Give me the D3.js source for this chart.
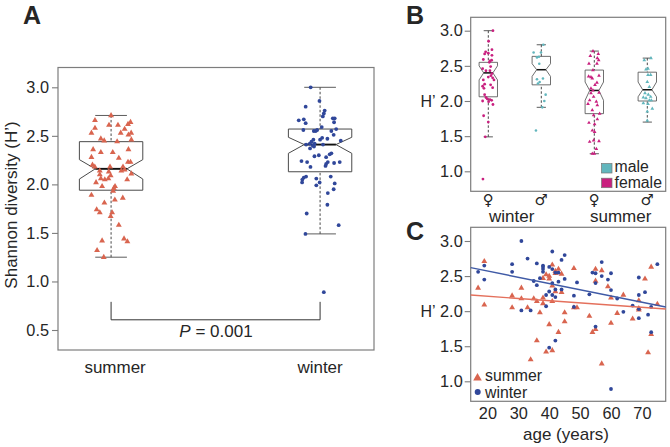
<!DOCTYPE html>
<html><head><meta charset="utf-8">
<script src="https://cdn.jsdelivr.net/npm/d3@7/dist/d3.min.js"></script>
<style>html,body{margin:0;padding:0;background:#fff}svg{display:block}text{font-family:"Liberation Sans",Arial,sans-serif;fill:#262626}</style>
</head><body><svg id="c" width="670" height="447"></svg>
<script>
// Panel A
const seasonsA = ["summer","winter"];
const ticksA = [0.5,1,1.5,2,2.5,3];
const summerValues = [2.71,2.66,2.64,2.62,2.61,2.61,2.58,2.57,2.53,2.53,2.53,2.51,2.47,2.45,2.46,2.44,2.36,2.36,2.33,2.33,2.28,2.27,2.23,2.23,2.2,2.18,2.18,2.18,2.14,2.14,2.15,2.13,2.11,2.1,2.09,2.06,2.06,2.05,2.05,2.02,1.98,1.98,1.96,1.93,1.89,1.86,1.84,1.81,1.74,1.71,1.71,1.67,1.58,1.44,1.41,1.42,1.32,1.25];
const summerJitter = [0,-.077,.093,.081,-.01,.033,-.077,.065,-.094,.096,.046,.083,-.049,-.033,.097,.029,-.086,.083,-.049,.008,-.094,.037,.081,.093,-.089,-.078,.057,-.005,-.054,.049,.065,-.011,.097,-.054,-.002,-.049,-.013,-.03,.077,-.072,-.043,.019,.013,.01,-.094,.056,.018,-.032,-.069,-.054,.005,-.002,.037,.062,.078,-.043,-.067,-.035];
const winterValues = [3,2.86,2.8,2.76,2.73,2.7,2.66,2.67,2.68,2.68,2.63,2.64,2.59,2.56,2.57,2.55,2.55,2.56,2.55,2.51,2.48,2.46,2.47,2.45,2.46,2.44,2.42,2.42,2.41,2.4,2.41,2.39,2.37,2.3,2.29,2.32,2.31,2.28,2.24,2.23,2.18,2.23,2.21,2.19,2.22,2.23,2.08,2.08,2.07,2.05,2.02,2.06,2.02,1.99,2.01,1.95,1.91,1.79,1.7,1.58,1.49,.89];
const winterJitter = [-.045,-.003,-.069,.022,.018,.013,-.102,-.078,.061,.07,-.069,.067,.008,-.08,.077,-.03,-.021,-.014,.054,.065,.01,0,.035,.099,-.032,-.041,-.049,-.026,-.067,-.035,.014,-.029,-.048,-.006,-.027,.054,.046,.029,-.089,-.062,-.046,.037,.029,.026,.067,.094,.051,-.067,-.078,-.085,-.086,-.018,-.002,-.018,.07,.065,.037,.035,-.064,.089,-.07,.018];
// box stats: whiskerLow, q1, notchLow, median, notchHigh, q3, whiskerHigh
const boxSummer = [1.25,1.94,2.055,2.16,2.255,2.44,2.71];
const boxWinter = [1.49,2.13,2.32,2.41,2.485,2.57,3.0];
const pLabel = "0.001";

// Panel B
const ticksB = [1,1.5,2,2.5,3];
const wfValues = [3,2.85,2.73,2.7,2.67,2.68,2.65,2.59,2.57,2.58,2.55,2.49,2.46,2.43,2.43,2.39,2.36,2.34,2.33,2.3,2.3,2.24,2.21,2.23,2.19,2.18,2.09,2.05,2.03,2.02,2.01,2,1.99,1.95,1.79,1.7,1.49,.89];
const wfJitter = [.088,.006,.069,-.05,-.069,0,.069,-.094,.031,.063,.019,.044,-.107,-.044,.031,.069,.05,0,.082,-.094,.107,-.069,-.107,.044,.082,-.082,-.069,-.044,-.019,.031,.063,-.107,.006,.088,-.088,0,-.057,-.101];
const wmValues = [2.8,2.69,2.69,2.63,2.62,2.53,2.31,2.27,2.32,2.25,2.09,2,1.91,1.58];
const wmJitter = [.038,-.145,-.006,-.044,-.082,-.038,-.082,-.031,.031,-.063,.082,.057,.019,-.101];
const sfValues = [2.71,2.67,2.64,2.61,2.58,2.53,2.53,2.44,2.35,2.34,2.32,2.36,2.26,2.23,2.18,2.15,2.11,2.12,2.06,2.01,1.99,1.96,1.94,1.87,1.82,1.8,1.74,1.69,1.67,1.58,1.56,1.42,1.44,1.43,1.32,1.25,1.25];
const sfJitter = [-.025,.075,-.075,.057,.082,-.101,.05,-.025,-.107,-.063,-.038,.088,.05,.013,-.063,-.025,-.063,.088,-.013,-.088,.038,-.119,.057,-.038,.101,-.013,.057,-.101,.006,-.038,.006,-.088,-.013,.088,.038,-.038,0];
const smValues = [2.61,2.58,2.46,2.45,2.37,2.37,2.27,2.2,2.11,2.09,2.05,2.06,2.04,2.01,2.01,1.97,1.96,1.89,1.85,1.72];
const smJitter = [.069,-.057,.013,-.025,.013,.063,0,.038,-.044,.019,-.075,.063,-.025,.038,.075,-.075,.013,.094,0,0];
const boxWF = [1.49,2.06,2.30,2.40,2.50,2.55,3.0];
const boxWM = [1.91,2.23,2.35,2.445,2.53,2.635,2.80];
const boxSF = [1.25,1.82,2.01,2.15,2.27,2.44,2.71];
const boxSM = [1.70,2.0,2.06,2.16,2.27,2.41,2.61];
const sexSymbols = ["♀","♂","♀","♂"];
const seasonsB = ["winter","summer"];
const legendB = ["male","female"];

// Panel C
const ticksCx = [20,30,40,50,60,70];
const ticksCy = [1,1.5,2,2.5,3];
const winterAge = [17,19,19,28,28,31,31,33,34,35,36,36,37,38,38,38,38,39,39,40,40,40,41,41,41,41,42,42,42,42,43,43,44,44,45,45,48,48,49,53,54,55,55,55,57,57,59,60,60,60,62,64,67,69,69,69,69,71,72,73,73,75];
const winterH = [2.56,2.65,2.45,2.67,2.56,3,2.01,2.75,2.01,2.43,2.68,2.37,2.47,2.65,2.63,2.6,2.56,2.23,2.07,2.63,2.28,1.48,2.85,2.6,2.4,2.23,2.55,2.31,2.2,1.58,2.55,2.42,2.73,2.31,2.8,2.46,2.22,2.06,2.41,2.24,2.55,2.54,2.4,1.78,2.7,2.5,2.45,2.54,2.3,.89,2.18,1.99,2.08,2.48,2.23,2.03,1.9,2.27,1.95,2.06,1.7,2.67];
const summerAge = [17,19,19,28,28,31,31,33,35,36,36,34,37,38,38,38,39,39,40,40,40,41,41,41,41,42,42,42,43,43,44,44,45,45,48,48,49,53,54,55,55,55,57,57,59,60,60,62,64,67,69,69,69,71,72,73,73,75];
const summerH = [2.33,2.71,2.09,2.22,2.05,2.33,2.18,2.05,2.18,2.14,1.58,1.31,1.98,2.47,2.19,2.11,2.52,1.42,2.5,2.46,1.81,2.66,2.36,2.14,1.44,2.57,2.54,2.28,2.6,1.7,2.53,2.27,1.98,1.85,2.61,2.05,2.05,1.93,1.7,2.6,2.43,1.74,2.58,1.25,2.35,2.19,1.83,1.97,2.23,1.89,2.15,2.04,2.02,2.46,1.41,2.63,1.67,2.1];
const fitAges = [14.6,77.7];
const fitWinter = [2.62,2.06];
const fitSummer = [2.23,2.03];

const colSummer="#d9654f", colWinter="#30479a", colF="#c9207f", colM="#62b6bd", frameCol="#7d7d7d", boxCol="#4a4a4a";
const FS=17, TS=16.3;
const svg=d3.select("#c");
const tri=d3.symbol().type(d3.symbolTriangle);

function frame(x0,y0,x1,y1){svg.append("rect").attr("x",x0).attr("y",y0).attr("width",x1-x0).attr("height",y1-y0).attr("fill","none").attr("stroke",frameCol).attr("stroke-width",1.2);}
function yAxis(scale,ticks,x0,pad){
  const g=svg.append("g").attr("transform",`translate(${x0},0)`).call(d3.axisLeft(scale).tickValues(ticks).tickFormat(d3.format(".1f")).tickSize(6).tickPadding(pad));
  g.select(".domain").remove();g.selectAll("line").attr("stroke",frameCol).attr("stroke-width",1.1);
  g.selectAll("text").attr("font-size",TS).style("fill","#262626").style("font-family",'"Liberation Sans",Arial,sans-serif');
  return g;
}
function box(x,y,cat,b,halfW,sw){
  const [wl,q1,nl,m,nh,q3,wh]=b;
  const L=x(cat)-halfW,R=x(cat)+halfW,mL=x(cat)-halfW/2,mR=x(cat)+halfW/2;
  const g=svg.append("g");
  g.append("path").attr("fill","none").attr("stroke",boxCol).attr("stroke-width",sw)
   .attr("d",d3.line()([[L,y(q1)],[R,y(q1)],[R,y(nl)],[mR,y(m)],[R,y(nh)],[R,y(q3)],[L,y(q3)],[L,y(nh)],[mL,y(m)],[L,y(nl)],[L,y(q1)]]));
  g.append("line").attr("x1",mL).attr("x2",mR).attr("y1",y(m)).attr("y2",y(m)).attr("stroke","#111").attr("stroke-width",sw*1.9);
  [[wl,q1],[wh,q3]].forEach(([a,c])=>{
    g.append("line").attr("x1",x(cat)).attr("x2",x(cat)).attr("y1",y(a)).attr("y2",y(c)).attr("stroke","#333").attr("stroke-width",.9).attr("stroke-dasharray","2.5,2");
    g.append("line").attr("x1",mL).attr("x2",mR).attr("y1",y(a)).attr("y2",y(a)).attr("stroke",boxCol).attr("stroke-width",.9);
  });
}
function tris(px,py,color,size){svg.append("g").selectAll("path").data(px.map((d,i)=>[d,py[i]])).join("path").attr("d",tri.size(size)()).attr("fill",color).attr("transform",d=>`translate(${d[0]},${d[1]})`);}
function dots(px,py,color,r){svg.append("g").selectAll("circle").data(px.map((d,i)=>[d,py[i]])).join("circle").attr("cx",d=>d[0]).attr("cy",d=>d[1]).attr("r",r).attr("fill",color);}
function label(t,x,y,size,anchor,weight){return svg.append("text").attr("x",x).attr("y",y).attr("font-size",size).attr("text-anchor",anchor||"start").attr("font-weight",weight||"normal").text(t);}

// ---- A
const xA=d3.scaleLinear().domain([0.746,2.258]).range([58,374]);
const yA=d3.scaleLinear().domain([0.5,3]).range([330,87.3]);
frame(58,67.5,374,350);
yAxis(yA,ticksA,58,3);
box(xA,yA,1,boxSummer,31.7,1);
box(xA,yA,2,boxWinter,31.7,1);
tris(summerValues.map((d,i)=>xA(1+summerJitter[i])),summerValues.map(yA),colSummer,15);
dots(winterValues.map((d,i)=>xA(2+winterJitter[i])),winterValues.map(yA),colWinter,1.9);
svg.append("path").attr("fill","none").attr("stroke","#333").attr("stroke-width",1)
  .attr("d",d3.line()([[xA(1),yA(0.79)],[xA(1),yA(0.605)],[xA(2),yA(0.605)],[xA(2),yA(0.79)]]));
const pT=label("",216,337,FS,"middle");
pT.append("tspan").attr("font-style","italic").text("P");pT.append("tspan").text(" = "+pLabel);
seasonsA.forEach((s,i)=>{label(s,xA(i+1)+4*(1-i),373,FS,"middle");});
svg.append("text").attr("transform","translate(17,205) rotate(-90)").attr("font-size",FS).attr("text-anchor","middle").text("Shannon diversity (H’)");
label("A",23,24,25,"start","bold");

// ---- B
const xB=d3.scaleLinear().domain([0.668,4.347]).range([470.7,665.7]);
const yB=d3.scaleLinear().domain([1,3]).range([171.3,30.7]);
frame(470.7,17.3,665.7,191.3);
yAxis(yB,ticksB,470.7,2);
[boxWF,boxWM,boxSF,boxSM].forEach((b,i)=>box(xB,yB,i+1,b,9.2,.8));
dots(wfValues.map((d,i)=>xB(1+wfJitter[i])),wfValues.map(yB),colF,1.4);
dots(wmValues.map((d,i)=>xB(2+wmJitter[i])),wmValues.map(yB),colM,1.3);
tris(sfValues.map((d,i)=>xB(3+sfJitter[i])),sfValues.map(yB),colF,6);
tris(smValues.map((d,i)=>xB(4+smJitter[i])),smValues.map(yB),colM,6);
sexSymbols.forEach((s,i)=>{const t=label(s,xB(i+1),205,15,"middle");t.style("font-family",'"DejaVu Sans",sans-serif');});
label(seasonsB[0],511.7,222,FS,"middle");
label(seasonsB[1],620.7,222,FS,"middle");
label("H’",420.5,107,16,"start");
legendB.forEach((s,i)=>{
  const yy=163.5+i*14.7;
  svg.append("rect").attr("x",601.5).attr("y",yy).attr("width",10.5).attr("height",9.5).attr("fill",i?colF:colM).attr("stroke","#777").attr("stroke-width",.7);
  label(s,614.5,171.5+i*16,15.8);
});
label("B",406,24,25,"start","bold");

// ---- C
const xC=d3.scaleLinear().domain([14.6,77.7]).range([470.7,665.7]);
const yC=d3.scaleLinear().domain([1,3]).range([381.3,241]);
frame(470.7,227.3,665.7,401.3);
yAxis(yC,ticksCy,470.7,2);
const gx=svg.append("g").attr("transform","translate(0,401.3)").call(d3.axisBottom(xC).tickValues(ticksCx).tickSize(0).tickPadding(6));
gx.select(".domain").remove();
gx.selectAll("text").attr("font-size",TS).style("fill","#262626").style("font-family",'"Liberation Sans",Arial,sans-serif');
tris(summerAge.map(xC),summerH.map(yC),colSummer,15);
dots(winterAge.map(xC),winterH.map(yC),colWinter,1.9);
const ln=d3.line().x((d,i)=>xC(fitAges[i])).y(d=>yC(d));
svg.append("path").attr("d",ln(fitWinter)).attr("fill","none").attr("stroke","#3f5aa6").attr("stroke-width",1.4);
svg.append("path").attr("d",ln(fitSummer)).attr("fill","none").attr("stroke","#e4705c").attr("stroke-width",1.4);
label("H’",420.5,317,16,"start");
label("age (years)",566,440,FS,"middle");
svg.append("path").attr("d",tri.size(32)()).attr("fill",colSummer).attr("transform","translate(477.5,378)");
svg.append("circle").attr("cx",477.7).attr("cy",392).attr("r",3).attr("fill",colWinter);
label(seasonsA[0],485,381,15.8);
label(seasonsA[1],485,397.5,15.8);
label("C",406,240,25,"start","bold");
</script></body></html>
